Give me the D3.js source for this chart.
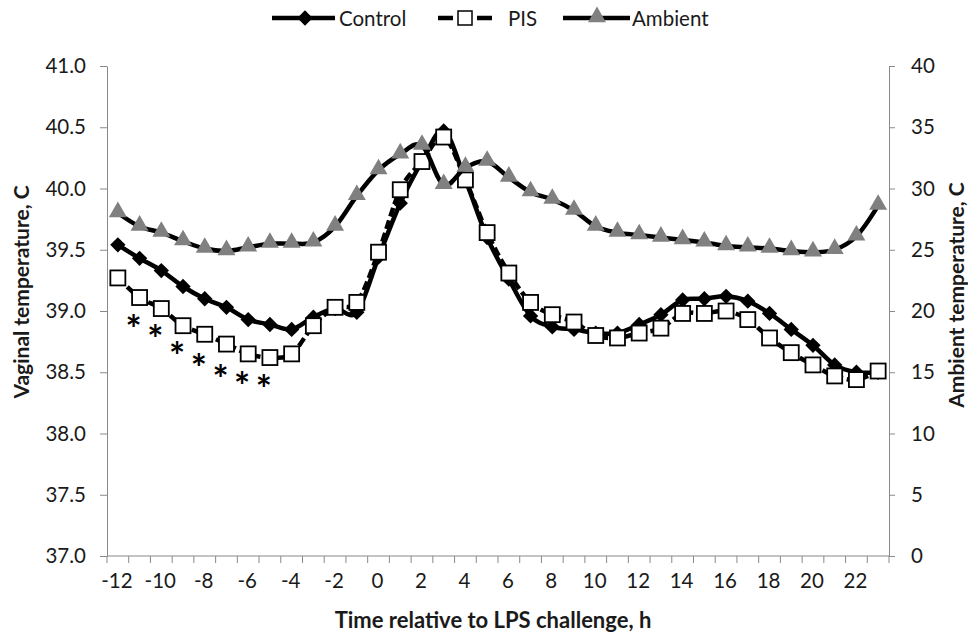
<!DOCTYPE html>
<html>
<head>
<meta charset="utf-8">
<script src="https://cdn.jsdelivr.net/npm/d3@7"></script>
<style>
  body { margin: 0; background: #fff; }
  text { font-family: Lato, "Open Sans", sans-serif; }
</style>
</head>
<body>
<svg id="chart" width="968" height="635"></svg>
<script>
// hours relative to LPS challenge
var hours = [-12,-11,-10,-9,-8,-7,-6,-5,-4,-3,-2,-1,0,1,2,3,4,5,6,7,8,9,10,11,12,13,14,15,16,17,18,19,20,21,22,23];
// vaginal temperature, C
var control = [39.54,39.43,39.33,39.20,39.10,39.03,38.93,38.89,38.85,38.95,39.02,38.99,39.44,39.88,40.22,40.47,40.07,39.60,39.26,38.96,
               38.87,38.85,38.82,38.82,38.89,38.97,39.09,39.10,39.12,39.08,38.98,38.85,38.72,38.56,38.50,38.50];
var pis = [39.27,39.11,39.02,38.88,38.81,38.73,38.65,38.62,38.65,38.88,39.03,39.07,39.48,39.99,40.22,40.42,40.07,39.64,39.31,39.07,
           38.97,38.91,38.80,38.78,38.82,38.86,38.98,38.98,39.00,38.93,38.78,38.66,38.56,38.47,38.44,38.51];
// ambient temperature, C (right axis)
var ambient = [28.0,26.9,26.4,25.7,25.1,24.9,25.2,25.5,25.5,25.6,26.9,29.4,31.5,32.8,33.5,30.3,31.7,32.2,30.9,29.7,
               29.1,28.2,26.9,26.4,26.2,26.0,25.8,25.6,25.3,25.2,25.1,24.9,24.8,25.0,26.1,28.6];
// significance marks
var starHours = [-11,-10,-9,-8,-7,-6,-5];
var starLevels = [38.90,38.82,38.68,38.58,38.49,38.44,38.41];

var xTickLabels = [-12,-10,-8,-6,-4,-2,0,2,4,6,8,10,12,14,16,18,20,22];
var leftTicks = [37.0,37.5,38.0,38.5,39.0,39.5,40.0,40.5,41.0];
var rightTicks = [0,5,10,15,20,25,30,35,40];

var svg = d3.select("#chart");
var pL = 107, pR = 889, pT = 66, pB = 556;
var axisColor = "#898989", textColor = "#1a1a1a";
var fs = "20.5px";

var x = d3.scaleBand().domain(hours).range([pL, pR]).padding(0);
var bw = x.bandwidth();
function cx(h) { return x(h) + bw / 2; }
var yL = d3.scaleLinear().domain([37, 41]).range([pB, pT]);
var yR = d3.scaleLinear().domain([0, 40]).range([pB, pT]);

// left axis
var gL = svg.append("g").attr("transform", "translate(" + pL + ",0)")
  .call(d3.axisLeft(yL).tickValues(leftTicks).tickSize(7).tickSizeOuter(0).tickPadding(14).tickFormat(d3.format(".1f")));
// right axis
var gR = svg.append("g").attr("transform", "translate(" + pR + ",0)")
  .call(d3.axisRight(yR).tickValues(rightTicks).tickSize(6).tickSizeOuter(0).tickPadding(16));
[gL, gR].forEach(function(g) {
  g.select(".domain").attr("stroke", axisColor);
  g.selectAll(".tick line").attr("stroke", axisColor);
  g.selectAll(".tick text").attr("fill", textColor).style("font-size", fs).style("font-family", "Lato, sans-serif");
});

// x axis (category axis, ticks between categories)
var gX = svg.append("g");
gX.append("line").attr("x1", pL).attr("x2", pR).attr("y1", pB).attr("y2", pB)
  .attr("stroke", axisColor);
var bounds = hours.map(function(h) { return x(h); }).concat([pR]);
gX.selectAll(".xt").data(bounds).enter().append("line")
  .attr("x1", function(d) { return d; }).attr("x2", function(d) { return d; })
  .attr("y1", pB).attr("y2", pB + 7).attr("stroke", axisColor);
gX.selectAll(".xl").data(xTickLabels).enter().append("text")
  .attr("x", function(d) { return cx(d) - 1; }).attr("y", pB + 32)
  .attr("text-anchor", "middle").attr("fill", textColor).style("font-size", fs)
  .text(function(d) { return d; });

// axis titles
svg.append("text").attr("x", 493).attr("y", 628).attr("text-anchor", "middle")
  .attr("fill", textColor).style("font-size", "22px").style("font-weight", "bold")
  .text("Time relative to LPS challenge, h");
svg.append("text").attr("transform", "translate(29,292) rotate(-90)").attr("text-anchor", "middle")
  .attr("fill", textColor).style("font-size", "21px").style("font-weight", "bold")
  .text("Vaginal temperature, C");
svg.append("text").attr("transform", "translate(964,295) rotate(-90)").attr("text-anchor", "middle")
  .attr("fill", textColor).style("font-size", "21px").style("font-weight", "bold")
  .text("Ambient temperature, C");

var curve = d3.curveCardinal.tension(0);
var diamond = d3.symbol().type(d3.symbolDiamond2).size(150);
var tri = d3.symbol().type(d3.symbolTriangle).size(140);

var lineL = d3.line().x(function(d, i) { return cx(hours[i]); }).y(function(d) { return yL(d); }).curve(curve);
var lineR = d3.line().x(function(d, i) { return cx(hours[i]); }).y(function(d) { return yR(d); }).curve(curve);

// control series
svg.append("path").datum(control).attr("d", lineL).attr("fill", "none").attr("stroke", "#000").attr("stroke-width", 4.5);
svg.selectAll(".cm").data(control).enter().append("path")
  .attr("d", diamond).attr("fill", "#000")
  .attr("transform", function(d, i) { return "translate(" + cx(hours[i]) + "," + yL(d) + ")"; });

// PIS series
svg.append("path").datum(pis).attr("d", lineL).attr("fill", "none").attr("stroke", "#000")
  .attr("stroke-width", 4.5).attr("stroke-dasharray", "9,4");
svg.selectAll(".pm").data(pis).enter().append("rect")
  .attr("x", function(d, i) { return cx(hours[i]) - 7.5; }).attr("y", function(d) { return yL(d) - 7.5; })
  .attr("width", 15).attr("height", 15).attr("fill", "#fff").attr("stroke", "#000").attr("stroke-width", 1.8);

// ambient series
svg.append("path").datum(ambient).attr("d", lineR).attr("fill", "none").attr("stroke", "#000").attr("stroke-width", 4.5);
svg.selectAll(".am").data(ambient).enter().append("path")
  .attr("d", tri).attr("fill", "#808080")
  .attr("transform", function(d, i) { return "translate(" + cx(hours[i]) + "," + (yR(d) - 1) + ")"; });

// asterisks
svg.selectAll(".star").data(starHours).enter().append("text")
  .attr("x", function(d) { return cx(d) - 6; }).attr("y", function(d, i) { return yL(starLevels[i]) + 20; })
  .attr("text-anchor", "middle").attr("fill", "#000").style("font-size", "38px").style("font-weight", "bold")
  .text("*");

// legend
var lg = svg.append("g").attr("transform", "translate(0,18)");
lg.append("line").attr("x1", 272).attr("x2", 335).attr("stroke", "#000").attr("stroke-width", 4.5);
lg.append("path").attr("d", diamond).attr("transform", "translate(305,0)");
lg.append("text").attr("x", 339).attr("y", 7.5).attr("fill", textColor).style("font-size", fs).text("Control");
lg.append("line").attr("x1", 438).attr("x2", 492).attr("stroke", "#000").attr("stroke-width", 4.5).attr("stroke-dasharray", "15,24");
lg.append("rect").attr("x", 458).attr("y", -7).attr("width", 14).attr("height", 14)
  .attr("fill", "#fff").attr("stroke", "#000").attr("stroke-width", 1.5);
lg.append("text").attr("x", 508).attr("y", 7.5).attr("fill", textColor).style("font-size", fs).text("PIS");
lg.append("line").attr("x1", 563).attr("x2", 630).attr("stroke", "#000").attr("stroke-width", 4.5);
lg.append("path").attr("d", tri).attr("fill", "#808080").attr("transform", "translate(597,-1)");
lg.append("text").attr("x", 632).attr("y", 7.5).attr("fill", textColor).style("font-size", fs).text("Ambient");
</script>
</body>
</html>
